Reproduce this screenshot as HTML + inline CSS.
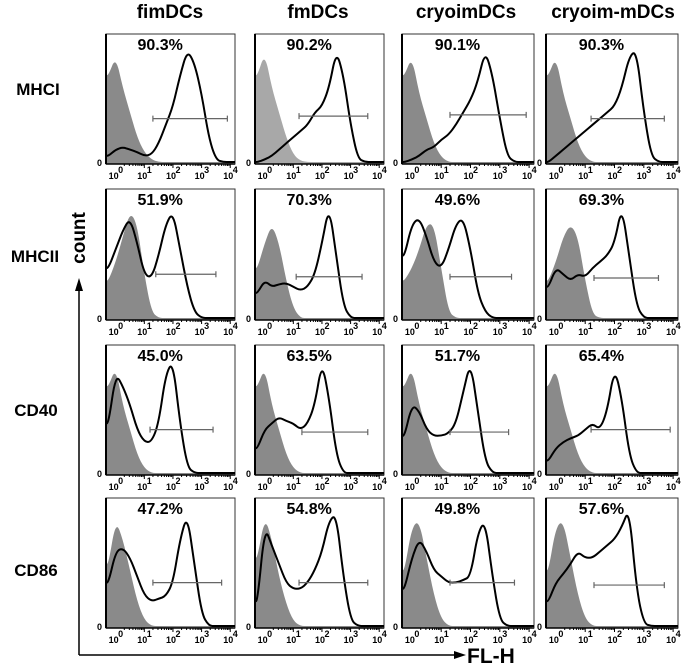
<!DOCTYPE html>
<html><head><meta charset="utf-8"><style>
body{margin:0;background:#fff;}
svg{display:block;font-family:"Liberation Sans",sans-serif;}
</style></head><body>
<svg id="fig" width="685" height="665" viewBox="0 0 685 665" xmlns="http://www.w3.org/2000/svg">
<g font-weight="bold" font-size="19" text-anchor="middle">
<text x="170" y="18">fimDCs</text>
<text x="318" y="18">fmDCs</text>
<text x="466" y="18">cryoimDCs</text>
<text x="613" y="18">cryoim-mDCs</text>
</g>
<g font-weight="bold" font-size="17" text-anchor="middle">
<text x="38" y="95">MHCI</text>
<text x="35" y="262">MHCII</text>
<text x="36" y="416">CD40</text>
<text x="36" y="576">CD86</text>
</g>
<g>
<line x1="79" y1="655" x2="79" y2="290" stroke="#000" stroke-width="1.5"/>
<polygon points="79,278 75,291 83,291" fill="#000"/>
</g>
<text transform="translate(85,238) rotate(-90)" font-weight="bold" font-size="19" text-anchor="middle">count</text>
<g>
<line x1="79" y1="655" x2="455" y2="655" stroke="#000" stroke-width="1.5"/>
<polygon points="466,655 454,651 454,659" fill="#000"/>
</g>
<text x="467" y="663" font-weight="bold" font-size="21">FL-H</text>
<g id="panels"></g>
</svg>
<script>
// grid of log10 positions shared by all histograms
const logGrid = [-0.25,0,0.25,0.5,0.75,1,1.25,1.5,1.75,2,2.25,2.5,2.75,3,3.25,3.5,3.75,4];
const markers = ["MHCI","MHCII","CD40","CD86"];
const groups = ["fimDCs","fmDCs","cryoimDCs","cryoim-mDCs"];
const percents = [
 ["90.3%","90.2%","90.1%","90.3%"],
 ["51.9%","70.3%","49.6%","69.3%"],
 ["45.0%","63.5%","51.7%","65.4%"],
 ["47.2%","54.8%","49.8%","57.6%"]];
const isotype = [
 [[0.7,0.85,0.6,0.4,0.2,0.08,0.02,0,0,0,0,0,0,0,0,0,0,0],
  [0.7,0.88,0.6,0.4,0.2,0.06,0.01,0,0,0,0,0,0,0,0,0,0,0],
  [0.7,0.85,0.55,0.35,0.15,0.04,0,0,0,0,0,0,0,0,0,0,0,0],
  [0.7,0.85,0.55,0.35,0.15,0.04,0,0,0,0,0,0,0,0,0,0,0,0]],
 [[0.3,0.45,0.65,0.85,0.75,0.35,0.05,0,0,0,0,0,0,0,0,0,0,0],
  [0.4,0.6,0.75,0.6,0.3,0.08,0,0,0,0,0,0,0,0,0,0,0,0],
  [0.3,0.4,0.55,0.75,0.75,0.4,0.05,0,0,0,0,0,0,0,0,0,0,0],
  [0.3,0.45,0.65,0.75,0.65,0.3,0.03,0,0,0,0,0,0,0,0,0,0,0]],
 [[0.7,0.85,0.55,0.35,0.15,0.04,0,0,0,0,0,0,0,0,0,0,0,0],
  [0.7,0.85,0.55,0.35,0.15,0.04,0,0,0,0,0,0,0,0,0,0,0,0],
  [0.7,0.85,0.55,0.35,0.15,0.04,0,0,0,0,0,0,0,0,0,0,0,0],
  [0.7,0.85,0.55,0.35,0.15,0.04,0,0,0,0,0,0,0,0,0,0,0,0]],
 [[0.5,0.85,0.7,0.45,0.2,0.05,0,0,0,0,0,0,0,0,0,0,0,0],
  [0.55,0.88,0.7,0.4,0.18,0.04,0,0,0,0,0,0,0,0,0,0,0,0],
  [0.45,0.8,0.85,0.55,0.25,0.06,0,0,0,0,0,0,0,0,0,0,0,0],
  [0.45,0.8,0.85,0.55,0.25,0.06,0,0,0,0,0,0,0,0,0,0,0,0]]];
const stained = [
 [[0.05,0.1,0.12,0.1,0.08,0.05,0.06,0.15,0.3,0.45,0.7,0.9,0.8,0.55,0.2,0.02,0,0],
  [0,0.02,0.05,0.1,0.15,0.2,0.25,0.3,0.4,0.45,0.6,0.9,0.7,0.3,0.03,0,0,0],
  [0,0.02,0.05,0.1,0.12,0.18,0.22,0.3,0.4,0.5,0.65,0.9,0.7,0.35,0.05,0,0,0],
  [0,0.05,0.1,0.15,0.2,0.25,0.3,0.35,0.4,0.45,0.6,0.85,0.9,0.4,0.05,0,0,0]],
 [[0.4,0.55,0.7,0.8,0.6,0.35,0.32,0.5,0.75,0.85,0.55,0.25,0.05,0,0,0,0,0],
  [0.2,0.3,0.25,0.27,0.28,0.25,0.22,0.25,0.35,0.6,0.9,0.5,0.1,0,0,0,0,0],
  [0.5,0.75,0.8,0.65,0.45,0.4,0.55,0.75,0.8,0.55,0.2,0.05,0,0,0,0,0,0],
  [0.25,0.4,0.35,0.3,0.35,0.33,0.4,0.45,0.5,0.6,0.9,0.5,0.1,0,0,0,0,0]],
 [[0.4,0.8,0.7,0.55,0.35,0.25,0.25,0.4,0.8,0.9,0.4,0.05,0,0,0,0,0,0],
  [0.2,0.35,0.4,0.45,0.42,0.4,0.35,0.4,0.55,0.9,0.6,0.15,0,0,0,0,0,0],
  [0.3,0.55,0.5,0.35,0.3,0.3,0.32,0.4,0.65,0.9,0.5,0.1,0,0,0,0,0,0],
  [0.1,0.2,0.25,0.28,0.3,0.35,0.4,0.35,0.5,0.85,0.6,0.15,0,0,0,0,0,0]],
 [[0.35,0.6,0.63,0.55,0.4,0.25,0.2,0.22,0.24,0.35,0.7,0.9,0.5,0.1,0,0,0,0],
  [0.2,0.8,0.65,0.5,0.35,0.3,0.3,0.35,0.45,0.6,0.85,0.9,0.4,0.05,0,0,0,0],
  [0.3,0.55,0.7,0.6,0.45,0.4,0.35,0.35,0.37,0.4,0.75,0.85,0.4,0.05,0,0,0,0],
  [0.2,0.35,0.42,0.5,0.6,0.55,0.55,0.6,0.65,0.7,0.8,0.95,0.3,0.02,0,0,0,0]]];
const gateStart = [[1.3,1.2,1.3,1.2],[1.4,1.1,1.3,1.3],[1.2,1.3,1.3,1.2],[1.3,1.2,1.3,1.3]];
const gateEnd = [[3.9,3.6,3.9,3.7],[3.5,3.4,3.4,3.5],[3.4,3.6,3.3,3.9],[3.7,3.6,3.5,3.7]];
const gateLevel = [[0.35,0.37,0.38,0.35],[0.35,0.33,0.33,0.32],[0.35,0.33,0.33,0.35],[0.35,0.35,0.35,0.33]];
const tickLabels = ["0","1","2","3","4"];

const colX = [106,255,402,546], colW = [129,129,132,132];
const rowY = [34,189,345,498], rowH = [130,131,130,130];
const NS = "http://www.w3.org/2000/svg";
const root = document.getElementById("panels");
function mk(tag, attrs, parent){const e=document.createElementNS(NS,tag);for(const k in attrs)e.setAttribute(k,attrs[k]);parent.appendChild(e);return e;}
function smoothPath(pts){
  let d="M"+pts[0][0].toFixed(1)+","+pts[0][1].toFixed(1);
  for(let i=1;i<pts.length-1;i++){
    const mx=(pts[i][0]+pts[i+1][0])/2,my=(pts[i][1]+pts[i+1][1])/2;
    d+=" Q"+pts[i][0].toFixed(1)+","+pts[i][1].toFixed(1)+" "+mx.toFixed(1)+","+my.toFixed(1);
  }
  const l=pts[pts.length-1];d+=" L"+l[0].toFixed(1)+","+l[1].toFixed(1);return d;
}
for(let r=0;r<4;r++)for(let c=0;c<4;c++){
  const L=colX[c],T=rowY[r],W=colW[c],H=rowH[r],B=T+H;
  const xs=v=>L+W*(0.075+0.222*v);
  const ys=h=>B-2-h*(H-6);
  const g=mk("g",{},root);
  
  
  const frame=mk("rect",{x:L,y:T,width:W,height:H,fill:"#fff",stroke:"#333","stroke-width":1},g);
  
  
  const iso=isotype[r][c];
  const ipts=logGrid.map((v,i)=>[Math.max(L+1,xs(v)),ys(iso[i])]);
  ipts.unshift([L+1,ys(iso[0])]);
  const ip=mk("path",{d:smoothPath(ipts)+" L"+(L+W)+","+(B)+" L"+(L+1)+","+B+" Z",fill:(r===0&&c===1)?"#a8a8a8":"#8a8a8a",stroke:"none"},g);
  
  
  const st=stained[r][c];
  const spts=logGrid.map((v,i)=>[Math.max(L+1,xs(v)),ys(st[i])]);
  spts.unshift([L+1,ys(st[0])]);
  spts.push([L+W,ys(0)]);
  const sp=mk("path",{d:smoothPath(spts),fill:"none",stroke:"#000","stroke-width":2,"stroke-linejoin":"round"},g);
  
  
  const gy=ys(gateLevel[r][c]),g1=xs(gateStart[r][c]),g2=xs(gateEnd[r][c]);
  const gate=mk("path",{d:`M${g1},${gy}H${g2}M${g1},${gy-3}V${gy+3}M${g2},${gy-3}V${gy+3}`,stroke:"#666","stroke-width":1.2,fill:"none"},g);
  
  
  mk("line",{x1:L,y1:T,x2:L,y2:B,stroke:"#000","stroke-width":2},g);
  mk("line",{x1:L,y1:B,x2:L+W,y2:B,stroke:"#000","stroke-width":1.5},g);
  for(let d=0;d<4;d++)for(let m=2;m<=10;m++){
    const x=xs(d+Math.log10(m));
    mk("line",{x1:x,y1:B,x2:x,y2:B+(m===10?4:2),stroke:"#000","stroke-width":1},g);
  }
  const pt=mk("text",{x:L+W*0.42,y:T+16,"font-size":16,"font-weight":"bold","text-anchor":"middle"},g);
  pt.textContent=percents[r][c];
  
  
  const z=mk("text",{x:L-4,y:B+2,"font-size":9,"font-weight":"bold","text-anchor":"end"},g);
  z.textContent="0";
  
  
  tickLabels.forEach((t,i)=>{
    const x=xs(i);
    const tx=mk("text",{x:x-2,y:B+15,"font-size":9,"font-weight":"bold","text-anchor":"middle"},g);
    tx.textContent="10";
    
    
    const sup=mk("text",{x:x+5,y:B+9,"font-size":9,"font-weight":"bold","text-anchor":"middle"},g);
    sup.textContent=t;
    
    
  });
}
</script>
</body></html>
